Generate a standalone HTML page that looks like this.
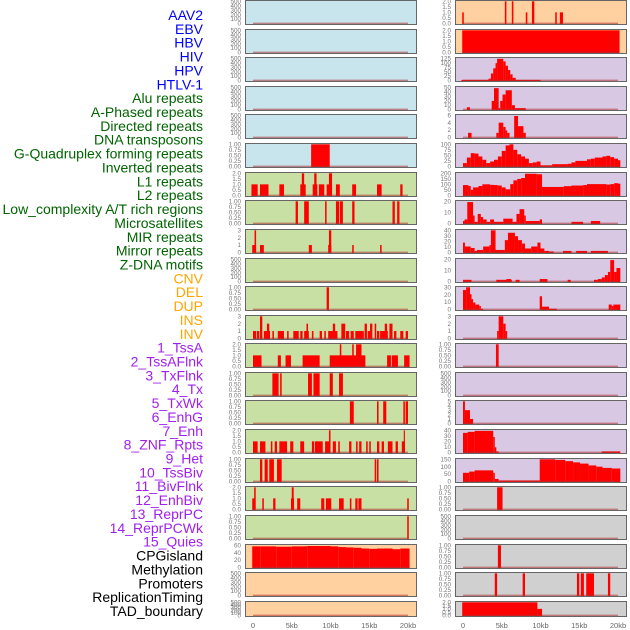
<!DOCTYPE html>
<html><head><meta charset="utf-8">
<style>
html,body{margin:0;padding:0;background:#fff;}
svg{display:block;}
text{font-family:"Liberation Sans",sans-serif;}
</style></head>
<body>
<svg id="chart" width="630" height="630" viewBox="0 0 630 630"></svg>
<script>
// ---------- data ----------
const labelNames = ["AAV2","EBV","HBV","HIV","HPV","HTLV-1","Alu repeats","A-Phased repeats","Directed repeats","DNA transposons","G-Quadruplex forming repeats","Inverted repeats","L1 repeats","L2 repeats","Low_complexity A/T rich regions","Microsatellites","MIR repeats","Mirror repeats","Z-DNA motifs","CNV","DEL","DUP","INS","INV","1_TssA","2_TssAFlnk","3_TxFlnk","4_Tx","5_TxWk","6_EnhG","7_Enh","8_ZNF_Rpts","9_Het","10_TssBiv","11_BivFlnk","12_EnhBiv","13_ReprPC","14_ReprPCWk","15_Quies","CPGisland","Methylation","Promoters","ReplicationTiming","TAD_boundary"];
const labelGroups = [0,0,0,0,0,0,1,1,1,1,1,1,1,1,1,1,1,1,1,2,2,2,2,2,3,3,3,3,3,3,3,3,3,3,3,3,3,3,3,4,4,4,4,4];
const groupColors = ["#0000ff","#006400","#ffa500","#a020f0","#000000"];
const xTickLabels = ["0","5kb","10kb","15kb","20kb"];
const xTickValues = [0,5,10,15,20];

const T500 = ["0","100","200","300","400","500"];
const T1 = ["0.00","0.25","0.50","0.75","1.00"];
const T2 = ["0.0","0.5","1.0","1.5","2.0"];
const T3 = ["0","1","2","3"];

// left column: background group, ymax, tick labels, segments [startKb,endKb,value]
const leftBg = [0,0,0,0,0,0,1,1,1,1,1,1,1,1,1,1,1,1,1,2,2,2];
const leftMax = [500,500,500,500,500,1,2,1,3,500,1,3,2,1,1,2,1,2,1,62,500,500];
const leftTicks = [T500,T500,T500,T500,T500,T1,T2,T1,T3,T500,T1,T3,T2,T1,T1,T2,T1,T2,T1,["0","20","40","60"],T500,T500];
const leftSegs = [
 [],[],[],[],[],
 [[7.5,9.9,1]],
 [[-0.2,0.6,1],[0.9,2.0,1],[3.4,4.0,1],[6.1,6.8,1],[6.3,6.6,2],[7.7,8.3,1],[7.9,8.2,2],[8.5,9.2,1],[9.5,10.2,1],[9.8,10.2,2],[10.7,11.2,1],[12.8,13.3,1],[16.0,16.6,1],[19.0,19.3,1]],
 [[5.5,5.8,1],[6.6,7.2,1],[9.3,9.5,1],[10.7,11.1,1],[11.2,11.6,1],[12.8,13.1,1],[18.0,18.3,1],[18.6,18.9,1]],
 [[-0.1,0.4,1],[0.2,0.4,3],[0.9,1.4,1],[7.2,7.6,1],[9.7,10.1,1],[9.8,10.1,3],[12.8,13.0,1],[16.4,16.6,1]],
 [],
 [[9.5,9.8,1]],
 [[0.0,0.4,1],[0.5,0.8,1],[0.9,1.2,3],[1.4,2.2,1],[1.8,2.1,2],[2.5,2.7,1],[3.2,4.0,1],[4.4,4.6,1],[5.2,5.9,1],[6.1,6.4,1],[6.6,7.2,1],[6.9,7.1,2],[7.6,7.8,1],[8.6,8.9,1],[9.2,9.4,1],[9.7,10.9,1],[10.3,10.6,2],[11.4,11.9,2],[12.0,12.4,1],[12.6,13.0,1],[13.2,14.3,1],[14.4,14.7,2],[14.8,15.1,1],[15.1,15.4,2],[15.7,15.9,2],[16.0,16.3,1],[16.4,17.4,1],[17.0,17.3,2],[17.6,18.0,2],[18.2,18.5,1],[19.0,19.4,1],[19.7,20.0,1]],
 [[0.0,1.1,1],[3.2,3.6,1],[4.2,4.9,1],[6.4,8.6,1],[9.9,14.5,1],[11.2,11.4,2],[12.8,13.0,2],[13.3,14.0,2],[17.3,17.8,1],[17.9,18.7,1],[19.5,20.2,1]],
 [[2.5,3.3,1],[3.5,3.7,1],[7.1,7.6,1],[7.8,8.6,1],[9.9,10.3,1],[11.1,11.6,1]],
 [[12.5,13.0,1],[16.0,16.2,1],[16.8,17.2,1],[19.4,19.6,1],[19.7,20.0,1]],
 [[0.0,0.6,1],[0.9,1.6,1],[2.3,2.5,1],[2.8,3.1,1],[3.4,4.4,1],[4.8,5.2,1],[6.1,6.6,1],[7.6,7.9,1],[8.0,9.0,1],[9.3,10.0,1],[9.8,10.0,2],[10.3,10.7,1],[11.0,11.2,1],[12.4,12.7,1],[13.3,13.5,1],[13.7,14.0,1],[14.6,14.8,1],[15.0,15.2,1],[16.0,16.3,1],[16.6,16.9,1],[17.4,18.0,1],[18.4,18.7,1],[19.2,19.6,1],[19.45,19.6,2]],
 [[0.9,1.2,1],[1.5,1.9,1],[2.1,2.7,1],[3.1,3.7,1],[15.7,15.9,1],[16.0,16.2,1]],
 [[-0.1,0.3,1],[0.15,0.35,2],[1.2,1.4,1],[2.6,2.9,1],[4.9,5.3,1],[5.0,5.25,2],[5.7,6.1,1],[8.8,9.2,1],[9.4,10.1,1],[11.1,11.7,1],[12.5,12.7,1],[13.2,13.5,1],[13.6,14.0,1],[19.9,20.1,1]],
 [[19.9,20.1,1]],
 [[-0.1,1,59],[1,3,59],[3,5,58],[5,7,59],[7,10,60],[10,11,59],[11,12,57],[12,13,56],[13,14,55],[14,15,53],[15,16,52],[16,18,53],[18,19,51],[19,20.2,53]],
 [],[]
];

// right column
const rightBg = [2,2,3,3,3,3,3,3,3,3,3,3,3,3,3,3,3,4,4,4,4,4];
const rightMax = [2,2,128,52,6.3,100,235,28,45,28,32,3,1,500,5,43,180,1,500,1,1,2];
const rightTicks = [T2,T2,["0","25","50","75","100","125"],["0","10","20","30","40","50"],["0","2","4","6"],["0","25","50","75","100"],["0","50","100","150","200"],["0","10","20"],["0","10","20","30","40"],["0","10","20"],["0","10","20","30"],T3,T1,T500,["0","1","2","3","4","5"],["0","10","20","30","40"],["0","50","100","150"],T1,T500,T1,T1,T2];
const rightSegs = [
 [[-0.1,0.1,1],[5.4,5.6,2],[6.3,6.5,2],[8.1,8.3,1],[8.9,9.2,2],[11.9,12.1,1],[12.5,12.9,1]],
 [[-0.1,20.2,2]],
 [[-0.2,10,3],[3.3,3.6,10],[3.6,3.9,40],[3.9,4.2,70],[4.2,4.4,100],[4.4,5.2,125],[5.2,5.5,110],[5.5,5.8,85],[5.8,6.1,60],[6.1,6.4,35],[6.4,6.8,15]],
 [[0.5,0.9,5],[3.7,4.0,20],[4.0,4.6,50],[4.6,4.8,3],[4.8,5.1,20],[5.1,5.5,35],[5.5,6.3,45],[6.3,6.7,10],[6.7,8.1,3]],
 [[0.65,1.1,1.3],[4.3,4.6,1.3],[4.6,5.2,4.2],[5.2,5.5,3],[5.5,5.7,2],[5.7,6.0,1.3],[6.6,7.1,6.1],[7.1,7.8,3.2],[7.8,8.1,1.3]],
 [[0,0.5,15],[0.5,1,40],[1,1.5,60],[1.5,2,58],[2,2.5,45],[2.5,3,30],[3,3.5,15],[3.5,4,22],[4,4.5,30],[4.5,5,45],[5,5.5,70],[5.5,6,95],[6,6.5,100],[6.5,7,75],[7,7.5,55],[7.5,8,45],[8,8.5,35],[8.5,9,15],[9,9.5,18],[9.5,10,22],[10,11.5,5],[11.5,13.5,10],[13.5,14,12],[14,14.5,18],[14.5,16,25],[16,16.5,32],[16.5,17,35],[17,18,40],[18,18.5,45],[18.5,19,48],[19,19.5,42],[19.5,20,35],[20,20.3,28]],
 [[0,0.7,110],[0.7,1,100],[1,1.3,60],[1.3,2,85],[2,2.5,100],[2.5,3.5,118],[3.5,4,112],[4,4.5,110],[4.5,5,105],[5,5.5,85],[5.5,6.1,65],[6.1,6.5,120],[6.5,7,160],[7,7.5,175],[7.5,8,185],[8,9.5,230],[9.5,10.2,225],[10.2,13,90],[13,14,98],[14,15.5,105],[15.5,16,110],[16,18.5,120],[18.5,19,115],[19,19.5,120],[19.5,20,130],[20,20.3,125]],
 [[0,0.2,3],[0.2,0.55,5],[0.55,1.3,27],[1.3,1.5,10],[1.5,1.9,2],[1.9,2.3,12],[2.3,2.6,8],[2.6,3.05,5],[3.05,3.5,2],[3.5,4,5],[4,5.2,2],[5.2,6.4,6],[6.4,6.9,2],[6.9,7.3,12],[7.3,7.9,18],[7.9,8.1,10],[8.1,9.9,3],[9.9,10.2,5],[14,15.5,2],[16.5,17.7,3]],
 [[0,0.25,20],[0.25,1,12],[1,1.5,9],[1.5,1.8,3],[1.8,2.6,5],[2.6,3.4,12],[3.4,3.6,15],[3.6,4.2,45],[4.2,5.4,5],[5.4,5.8,25],[5.8,6.7,40],[6.7,7.1,33],[7.1,7.6,25],[7.6,8,18],[8,8.8,8],[8.8,9.6,12],[9.6,10,20],[10,10.5,8],[10.5,11.1,3],[11.1,11.7,2],[12.9,14,3],[14.6,16,3],[16.5,18.7,3]],
 [[0,1.1,2],[4.3,6.3,2],[5.6,6.2,3],[6.8,7.3,2],[9.9,10.9,3],[13.5,13.9,2],[16.9,17.4,2],[17.4,17.9,3],[17.9,18.3,5],[18.3,18.7,8],[18.7,19,12],[19,19.5,27],[19.5,19.8,12],[19.8,20.3,17]],
 [[0,0.4,28],[0.4,0.9,32],[0.9,1.1,22],[1.1,1.3,15],[1.3,1.6,10],[1.6,2.1,7],[2.1,2.3,5],[2.3,2.6,1],[9.9,10.2,19],[10.2,11.1,4],[11.1,12.1,1],[18.8,19.2,7],[19.2,19.4,5],[19.4,20.3,7]],
 [[4.4,4.6,1],[4.6,5.2,3],[5.2,5.5,2],[5.5,5.7,1]],
 [[4.25,4.6,1]],
 [],
 [[0,0.25,5],[0.25,0.9,3],[0.9,1.3,1]],
 [[0,0.6,38],[0.6,1.5,40],[1.5,3.9,42],[3.9,4.1,30],[4.1,4.3,10],[4.3,4.6,2],[17.9,20.3,2]],
 [[0,0.8,70],[0.8,1.5,80],[1.5,3.9,90],[3.9,4.1,70],[4.1,4.6,20],[4.6,9.9,8],[9.9,11.9,180],[11.9,13.2,175],[13.2,14.2,165],[14.2,15.1,155],[15.1,16.2,145],[16.2,17.2,130],[17.2,18,120],[18,19.2,110],[19.2,20.3,105]],
 [[4.4,5.1,1]],
 [],
 [[4.5,4.9,1]],
 [[4.1,4.4,1],[7.7,8.0,1],[14.7,15.0,1],[15.2,15.6,1],[15.9,16.9,1],[18.7,19.0,1]],
 [[-0.1,9.6,2],[9.6,10.2,1]]
];

const bgColors = ["#c8e4ec","#c8e0a4","#ffd0a0","#d8c8e4","#d0d0d0"];
// ---------- layout ----------
const rowTops = [0,29,57,86,114,143,172,200,229,258,286,315,343,372,400,429,458,486,515,544,572,601];
function rowH(i){ return i===21 ? 16 : 25; }
const cols = [{x0:245,x1:417,d0:253,name:"left"},{x0:455,x1:627,d0:463,name:"right"}];
const KB = 7.75;

const svg = document.getElementById('chart');
const NS = "http://www.w3.org/2000/svg";
function mk(tag, attrs){ const e=document.createElementNS(NS,tag); for(const k in attrs) e.setAttribute(k,attrs[k]); svg.appendChild(e); return e; }

// labels
labelNames.forEach((n,i)=>{
  const t = mk('text',{x:203,y:15+i*13.86+5,'text-anchor':'end','font-size':'14',fill:groupColors[labelGroups[i]]});
  t.textContent = n;
  
  
});

function drawCol(c, bgs, maxs, ticks, segs){
  const xs = kb => c.d0 + kb*KB;
  for(let i=0;i<22;i++){
    const top=rowTops[i], h=rowH(i);
    const y0 = top+h-1.6, yt = top+1.3;
    const ys = v => y0 - (v/maxs[i])*(y0-yt);
    const bg = mk('rect',{x:c.x0,y:top,width:c.x1-c.x0,height:h,fill:bgColors[bgs[i]],stroke:'none'});
    
    
    const cid = 'clip-'+c.name+i;
    const cp = mk('clipPath',{id:cid});
    cp.appendChild(Object.assign(document.createElementNS(NS,'rect'),{}));
    cp.firstChild.setAttribute('x',c.x0);cp.firstChild.setAttribute('y',top);
    cp.firstChild.setAttribute('width',c.x1-c.x0);cp.firstChild.setAttribute('height',h);
    segs[i].forEach(s=>{
      const r = mk('rect',{x:xs(s[0]),y:ys(s[2]),width:Math.max(1,xs(s[1])-xs(s[0])),height:y0-ys(s[2])+0.6,fill:'#ff0000','clip-path':'url(#'+cid+')'});
      
      
    });
    const bl = mk('line',{x1:xs(0),x2:xs(20),y1:y0,y2:y0,stroke:'#b03030','stroke-opacity':'0.55','stroke-width':'1.5'});
    
    
    const fr = mk('rect',{x:c.x0+0.5,y:top+0.5,width:c.x1-c.x0-1,height:h-1,fill:'none',stroke:'#666','stroke-width':'1'});
    
    
    const tk = ticks[i], n = tk.length-1;
    tk.forEach((lab,j)=>{
      const ty = y0 - (j/n)*(y0-yt);
      const t = mk('text',{x:c.x0-4,y:ty+2.2,'text-anchor':'end','font-size':'6.3',fill:'#777'});
      t.textContent = lab;
      
      
    });
  }
  xTickValues.forEach((v,j)=>{
    const t = mk('text',{x:xs(v),y:628,'text-anchor':'middle','font-size':'7.5',fill:'#666'});
    t.textContent = xTickLabels[j];
    
    
  });
}
drawCol(cols[0], leftBg, leftMax, leftTicks, leftSegs);
drawCol(cols[1], rightBg, rightMax, rightTicks, rightSegs);
</script>
</body></html>
